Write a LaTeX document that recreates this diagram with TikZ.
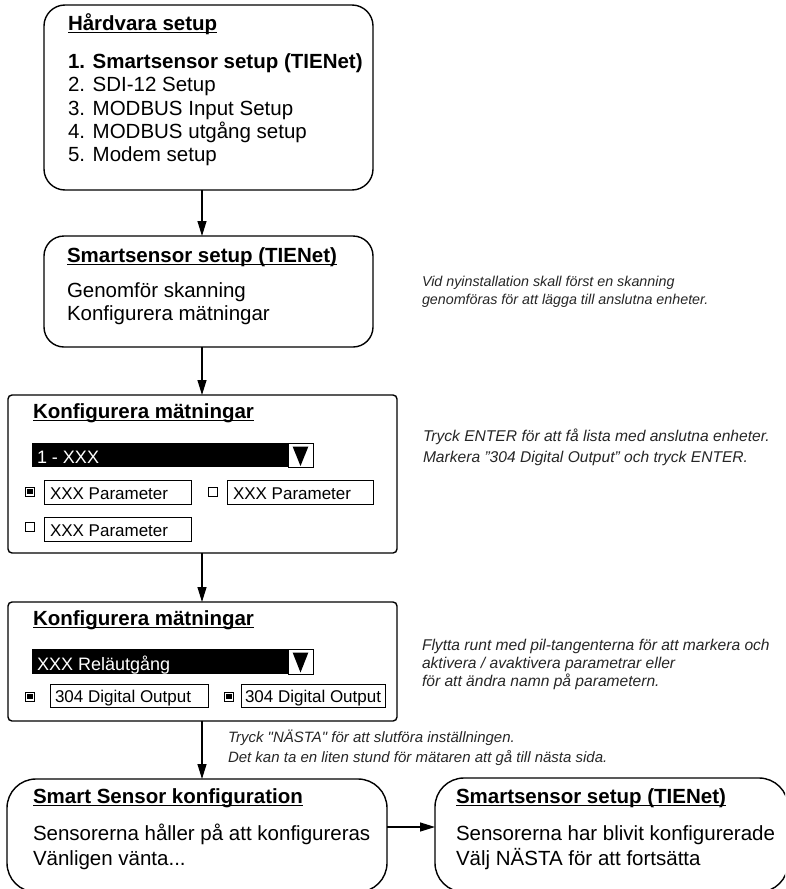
\documentclass[tikz,border=0pt]{standalone}
\usepackage{fontspec}
\setmainfont{Liberation Sans}
% same face without the TeX quote mapping, for straight double quotes
\newfontfamily\plainfont[Ligatures=TeXOff]{Liberation Sans}
\usetikzlibrary{arrows.meta}

% underlined heading: rule just under the baseline
\newcommand\ulhead[1]{\setbox0\hbox{#1}\rlap{\rule[-3.2pt]{\wd0}{1.4pt}}\box0}
\newcommand\mainsz{\fontsize{20.5}{23.4}\selectfont}
\newcommand\fieldsz{\fontsize{17}{20}\selectfont}
\newcommand\barsz{\fontsize{18}{20}\selectfont}

\begin{document}
\begin{tikzpicture}[x=1pt,y=-1pt,
  every node/.style={inner sep=0pt, outer sep=0pt},
  panel/.style={draw, line width=1.4pt, anchor=north west, rounded corners=#1},
  field/.style={draw, line width=0.8pt, anchor=north west},
  checkbox/.style={draw, line width=1pt, minimum size=9pt},
  checked/.style={checkbox, path picture={\fill ([shift={(1.8pt,1.8pt)}]path picture bounding box.south west) rectangle ([shift={(-1.8pt,-1.8pt)}]path picture bounding box.north east);}},
  main/.style={anchor=base west, font=\mainsz},
  ftext/.style={anchor=base west, font=\fieldsz},
  bartext/.style={anchor=base west, font=\barsz, text=white},
  note/.style={anchor=base west, font=\fontsize{#1}{#1}\selectfont\itshape, text=black!85},
  arr/.style={line width=1.2pt, -{Triangle[length=15pt,width=9pt]}}]

\useasboundingbox (0,0) rectangle (785,889);
\clip (0,0) rectangle (785,889);

% ---------- main panels ----------
\node[panel=21pt, minimum width=329pt, minimum height=185pt] (hw) at (44,5) {};
\node[panel=20pt, minimum width=329pt, minimum height=111pt] (ss) at (44,236) {};
\node[panel=4pt, minimum width=389pt, minimum height=158pt] (km1) at (8,395) {};
\node[panel=4pt, minimum width=389pt, minimum height=119pt] (km2) at (8,602) {};
\node[panel=29pt, minimum width=380pt, minimum height=113pt] (cfg) at (7,779) {};
\node[panel=29pt, minimum width=353pt, minimum height=114pt] (done) at (435,778) {};

% ---------- hardware menu ----------
\node[main] (hwT) at (68,30) {\bfseries\ulhead{Hårdvara setup}};
\node[main] (hw1) at (68,68.3) {\bfseries 1. Smartsensor setup (TIENet)};
\node[main] (hw2) at (68,91.7) {2. SDI-12 Setup};
\node[main] (hw3) at (68,115) {3. MODBUS Input Setup};
\node[main] (hw4) at (68,138.3) {4. MODBUS utgång setup};
\node[main] (hw5) at (68,161.7) {5. Modem setup};

% ---------- smartsensor setup ----------
\node[main] (ssT) at (67,262) {\bfseries\ulhead{Smartsensor setup (TIENet)}};
\node[main] (ss1) at (67,297) {Genomför skanning};
\node[main] (ss2) at (67,320) {Konfigurera mätningar};

% ---------- first measurement screen ----------
\node[main] (k1T) at (33,418) {\bfseries\ulhead{Konfigurera mätningar}};
\node[fill=black, anchor=north west, minimum width=256pt, minimum height=24pt] (bar1) at (32,443) {};
\node[draw, fill=white, line width=0.8pt, anchor=north west, minimum width=25pt, minimum height=24pt] (btn1) at (288,443) {};
\fill (292.7,446.7) -- (308.3,446.7) -- (300.5,466) -- cycle;
\node[bartext] (bar1t) at (37,463) {1 - XXX};

\node[checked] (cb11) at (30,491.5) {};
\node[field, minimum width=147pt, minimum height=24pt] (p11) at (44,480) {};
\node[ftext] (p11t) at (50,499) {XXX Parameter};
\node[checkbox] (cb12) at (213,491.5) {};
\node[field, minimum width=146pt, minimum height=24pt] (p12) at (227,480) {};
\node[ftext] (p12t) at (233,499) {XXX Parameter};
\node[checkbox] (cb13) at (30,526.5) {};
\node[field, minimum width=147pt, minimum height=24pt] (p13) at (44,517) {};
\node[ftext] (p13t) at (50,536) {XXX Parameter};

% ---------- second measurement screen ----------
\node[main] (k2T) at (33,625) {\bfseries\ulhead{Konfigurera mätningar}};
\node[fill=black, anchor=north west, minimum width=256pt, minimum height=25pt] (bar2) at (32,649) {};
\node[draw, fill=white, line width=0.8pt, anchor=north west, minimum width=25pt, minimum height=25pt] (btn2) at (288,649) {};
\fill (292.7,652.7) -- (308.3,652.7) -- (300.5,672.5) -- cycle;
\node[bartext] (bar2t) at (37,670) {XXX Reläutgång};

\node[checked] (cb21) at (30,696.5) {};
\node[field, minimum width=158pt, minimum height=23pt] (p21) at (50,684) {};
\node[ftext] (p21t) at (55,702.5) {304 Digital Output};
\node[checked] (cb22) at (229,696.5) {};
\node[field, minimum width=144pt, minimum height=23pt] (p22) at (241,684) {};
\node[ftext] (p22t) at (245,702.5) {304 Digital Output};

% ---------- final panels ----------
\node[main] (cfgT) at (33,803) {\bfseries\ulhead{Smart Sensor konfiguration}};
\node[main] (cfg1) at (33,840) {Sensorerna håller på att konfigureras};
\node[main] (cfg2) at (33,865) {Vänligen vänta...};

\node[main] (doneT) at (456,803) {\bfseries\ulhead{Smartsensor setup (TIENet)}};
\node[main] (done1) at (456,840) {Sensorerna har blivit konfigurerade};
\node[main] (done2) at (456,865) {Välj NÄSTA för att fortsätta};

% ---------- side notes ----------
\node[note=14.3] (n1a) at (422,286) {Vid nyinstallation skall först en skanning};
\node[note=14.3] (n1b) at (422,304) {genomföras för att lägga till anslutna enheter.};
\node[note=15.6] (n2a) at (423,441) {Tryck ENTER för att få lista med anslutna enheter.};
\node[note=15.6] (n2b) at (423,462) {Markera ”304 Digital Output” och tryck ENTER.};
\node[note=15.6] (n3a) at (422,650) {Flytta runt med pil-tangenterna för att markera och};
\node[note=15.6] (n3b) at (422,668) {aktivera / avaktivera parametrar eller};
\node[note=15.6] (n3c) at (422,686) {för att ändra namn på parametern.};
\node[note=15] (n4a) at (228,742) {\plainfont Tryck "NÄSTA" för att slutföra inställningen.};
\node[note=15] (n4b) at (228,762) {Det kan ta en liten stund för mätaren att gå till nästa sida.};

% ---------- connectors ----------
\coordinate (spine) at (202,0);
\draw[arr] (spine |- hw.south) -- (spine |- ss.north);
\draw[arr] (spine |- ss.south) -- (spine |- km1.north);
\draw[arr] (spine |- km1.south) -- (spine |- km2.north);
\draw[arr] (spine |- km2.south) -- (spine |- cfg.north);
\coordinate (hrow) at (0,827);
\draw[arr] (hrow -| cfg.east) -- (hrow -| done.west);

\end{tikzpicture}
\end{document}
